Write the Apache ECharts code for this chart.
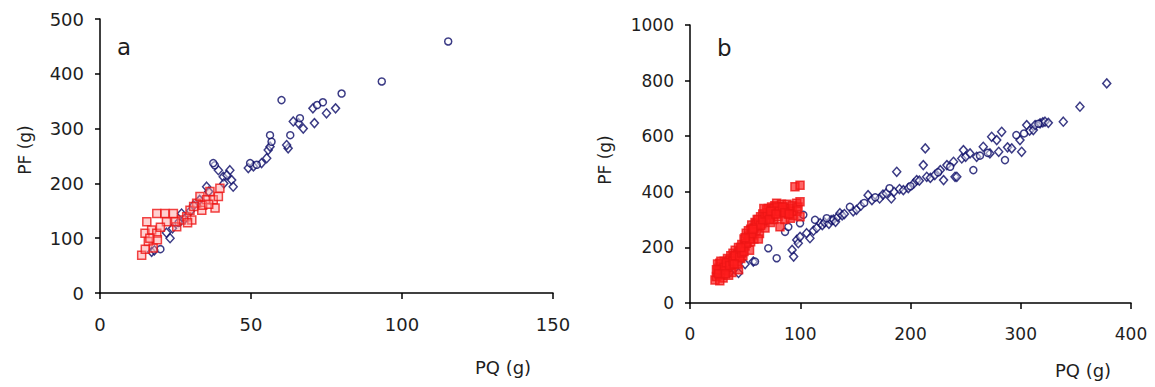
<!DOCTYPE html>
<html>
<head>
<meta charset="utf-8">
<script src="https://cdn.jsdelivr.net/npm/echarts@6/dist/echarts.min.js"></script>
<style>
html,body{margin:0;padding:0;background:#fff;}
#chart{width:1155px;height:387px;}
</style>
</head>
<body>
<div id="chart"></div>
<script>
// ---- Panel a ----
const aXTicks = [0, 50, 100, 150];
const aYTicks = [0, 100, 200, 300, 400, 500];
const aNavyDiamonds = [
  [17.1,75],[18,78],[23.2,100],[22,110],[24,118],[27,145],[28,135],[30,150],[31,160],[33,170],
  [35.3,194],[36,185],[39.2,224],[40.8,212],[43,224],[43.6,206],[44.1,194],[42,215],[41,200],
  [49.1,228],[50.8,231],[53.5,237],[55.2,246],[55.7,261],[56.3,267],[62.3,264],[61.8,270],
  [65.7,310],[67.3,300],[64,313],[71,310],[75,328],[78,337],[70.5,337]
];
const aNavyCircles = [
  [20,80],[26,128],[38,233],[37.5,237],[49.7,237],[51.9,234],[56.3,288],[56.8,276],[63,288],
  [60.1,352],[66.2,319],[71.9,343],[73.8,348],[80,364],[93.3,386],[115.3,459]
];
const aRedSquares = [
  [13.8,69],[14.9,109],[15.5,130],[16,94],[17.1,115],[17.6,82],[18.8,145],[18.8,109],[19,97],
  [21.5,145],[22,130],[24.3,145],[25.4,121],[27,133],[28.7,139],[29.8,151],[30.4,133],[32,164],
  [33.1,176],[33.7,151],[35.3,170],[36.4,185],[37.5,170],[38.1,155],[39.2,176],[39.7,191],
  [31,158],[34,160],[36,162],[29,128],[25,130],[20,120],[16.5,100],[15,80]
];

// ---- Panel b ----
const bXTicks = [0, 100, 200, 300, 400];
const bYTicks = [0, 200, 400, 600, 800, 1000];
const bRedSquares = [
  [22.7,83],[24,95],[25,110],[26,125],[27,143],[28,100],[29,130],[30,115],[31,150],[32,140],
  [33,120],[34,160],[35,135],[36,155],[37,170],[38,145],[39,179],[40,165],[41,190],[42,150],
  [43,175],[44,200],[45,185],[46,160],[47,210],[48,195],[49,230],[50,205],[51,251],[52,220],
  [53,240],[54,190],[55,265],[56,281],[57,245],[58,230],[59,290],[60,260],[61,300],[62,275],
  [63,250],[64,310],[65,285],[66,320],[67,295],[68,270],[69.5,335],[70,305],[71,340],[72,315],
  [73,290],[74,345],[75,320],[76,300],[77,350],[78.6,359],[79,330],[80,310],[81.6,274],[82,340],
  [83,355],[84,325],[85,345],[86,300],[87,335],[88,355],[89,320],[90,340],[91,305],[92,330],
  [93,350],[94,315],[95.2,418],[96.8,359],[97,330],[98,345],[99.8,424],[99.8,364],[99.8,310],
  [44,120],[38,110],[30,90],[27,80],[35,100],[48,170],[55,220],[62,230],
  [25,140],[28,150],[31,128],[33,145],[36,135],[39,150],[41,170],[43,140],[45,165],[47,180],
  [49,185],[51,215],[53,260],[54,230],[56,250],[58,270],[60,285],[62,300],[64,280],[66,300],
  [68,320],[70,325],[72,300],[74,330],[76,340],[79,345],[81,330],[84,345],[86,325],[90,320],
  [24,120],[26,105],[32,105],[40,140],[46,200],[50,235],[57,265],[67,340],[73,330],[78,320]
];
const bNavyDiamonds = [
  [36,110],[44,108],[50,140],[57.4,149],[92.6,191],[94,167],[96.8,227],[98.2,215],[99.8,238],
  [105.8,251],[108.8,233],[118,287],[112,260],[115,270],[120,280],[122,290],[126,285],[128,298],
  [130,300],[132,292],[134,310],[136,323],[138,315],[140,320],[148,330],[151,335],[155,350],
  [161.5,388],[165,370],[172,376],[175,390],[178,395],[182.6,376],[185,400],[187.5,472],[190,410],
  [193.5,406],[198,413],[203,430],[205.6,442],[208,440],[211.6,496],[213.4,556],[214.7,454],
  [218,450],[222,460],[227,478],[230,442],[233,496],[239,508],[240.4,454],[242,454],[246.5,520],
  [248,550],[250,526],[254,538],[260,526],[266,562],[272,538],[273.6,598],[278.2,586],[280,544],
  [282.7,616],[288,560],[291.8,556],[299.3,586],[300.8,544],[305.4,640],[308,620],[311.4,622],
  [313,640],[317.5,646],[320,650],[322,652],[325,648],[338.6,652],[353.7,706],[378,790]
];
const bNavyCircles = [
  [59,149],[71,197],[78.6,161],[86.2,256],[89.2,274],[99.8,287],[102.8,317],[113.4,299],[124,305],
  [145,346],[158,360],[168,380],[181,413],[200,420],[225,470],[236,490],[257,478],[263,530],
  [270,540],[285.7,514],[296,604],[303,610],[316,645]
];

const NAVY = '#0a0a66';
const RED = '#ee1515';
const FONT = 'DejaVu Sans';
const TXT = '#1e1e1e';

function xAxisCfg(idx, ticks, fs) {
  return {
    gridIndex: idx, type: 'value', min: ticks[0], max: ticks[ticks.length - 1],
    interval: ticks[1] - ticks[0],
    axisLine: { show: true, onZero: false, lineStyle: { color: '#000', width: 1.5 } },
    axisTick: { show: true, inside: false, length: 6, lineStyle: { color: '#000', width: 1.5 } },
    axisLabel: { margin: 22, color: TXT, fontSize: fs, fontFamily: FONT, formatter: v => String(v) },
    splitLine: { show: false }
  };
}
function yAxisCfg(idx, ticks, fs) {
  return {
    gridIndex: idx, type: 'value', min: ticks[0], max: ticks[ticks.length - 1],
    interval: ticks[1] - ticks[0],
    axisLine: { show: true, onZero: false, lineStyle: { color: '#000', width: 1.5 } },
    axisTick: { show: true, inside: false, length: 5, lineStyle: { color: '#000', width: 1.5 } },
    axisLabel: { margin: 16, color: TXT, fontSize: fs, fontFamily: FONT, formatter: v => String(v) },
    splitLine: { show: false }
  };
}
function sc(name, data, x, y, sym, color, fill, size) {
  return {
    name, type: 'scatter', xAxisIndex: x, yAxisIndex: y, data,
    symbol: sym, symbolSize: size,
    itemStyle: { color: fill, borderColor: color, borderWidth: 1.5 },
    emphasis: { disabled: true }, animation: false
  };
}

const chart = echarts.init(document.getElementById('chart'), null, { renderer: 'svg' });
chart.setOption({
  backgroundColor: '#fff',
  animation: false,
  grid: [
    { left: 100, right: 602, top: 19, bottom: 94 },
    { left: 690, right: 24, top: 25, bottom: 84 }
  ],
  xAxis: [xAxisCfg(0, aXTicks, 18), xAxisCfg(1, bXTicks, 17)],
  yAxis: [yAxisCfg(0, aYTicks, 18), yAxisCfg(1, bYTicks, 17)],
  series: [
    sc('a diamonds', aNavyDiamonds, 0, 0, 'diamond', NAVY, 'rgba(255,255,255,0.6)', [8, 9]),
    sc('a circles', aNavyCircles, 0, 0, 'circle', NAVY, 'rgba(255,255,255,0.6)', 7),
    sc('a squares', aRedSquares, 0, 0, 'rect', RED, 'rgba(255,150,150,0.55)', 8),
    sc('b diamonds', bNavyDiamonds, 1, 1, 'diamond', NAVY, 'rgba(255,255,255,0.6)', [8, 9]),
    sc('b circles', bNavyCircles, 1, 1, 'circle', NAVY, 'rgba(255,255,255,0.6)', 7),
    sc('b squares', bRedSquares, 1, 1, 'rect', RED, 'rgba(255,30,30,0.85)', 8)
  ],
  graphic: [
    { type: 'text', left: 117, top: 35, style: { text: 'a', fontSize: 23, fontFamily: FONT, fill: TXT } },
    { type: 'text', left: 717, top: 36, style: { text: 'b', fontSize: 23, fontFamily: FONT, fill: TXT } },
    { type: 'text', x: 25, y: 150, rotation: Math.PI / 2,
      style: { text: 'PF (g)', fontSize: 17, fontFamily: FONT, fill: TXT, align: 'center', verticalAlign: 'middle' } },
    { type: 'text', x: 605, y: 160, rotation: Math.PI / 2,
      style: { text: 'PF (g)', fontSize: 17, fontFamily: FONT, fill: TXT, align: 'center', verticalAlign: 'middle' } },
    { type: 'text', x: 503, y: 367,
      style: { text: 'PQ (g)', fontSize: 18, fontFamily: FONT, fill: TXT, align: 'center', verticalAlign: 'middle' } },
    { type: 'text', x: 1083, y: 370,
      style: { text: 'PQ (g)', fontSize: 18, fontFamily: FONT, fill: TXT, align: 'center', verticalAlign: 'middle' } }
  ]
});
</script>
</body>
</html>
